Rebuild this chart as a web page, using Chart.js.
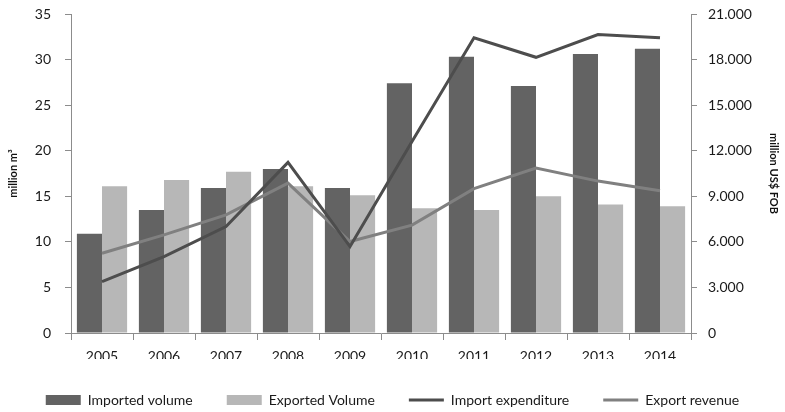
<!DOCTYPE html>
<html>
<head>
<meta charset="utf-8">
<script src="https://cdn.jsdelivr.net/npm/chart.js@4.4.1/dist/chart.umd.min.js"></script>
<style>
  html, body { margin: 0; padding: 0; background: #fff; }
  #wrap { position: relative; width: 785px; height: 412px; }
</style>
</head>
<body>
<div id="wrap"><canvas id="myChart"></canvas></div>
<script>
const years = ['2005', '2006', '2007', '2008', '2009', '2010', '2011', '2012', '2013', '2014'];

// volumes, million m3 (left axis)
const importedVolume = [10.9, 13.5, 15.9, 18.0, 15.9, 27.4, 30.3, 27.1, 30.6, 31.2];
const exportedVolume = [16.1, 16.8, 17.7, 16.1, 15.1, 13.7, 13.5, 15.0, 14.1, 13.9];

// money, million US$ FOB (right axis)
const importExpenditure = [3380, 5030, 7010, 11230, 5690, 12600, 19430, 18150, 19650, 19430];
const exportRevenue = [5250, 6460, 7780, 9870, 6020, 7100, 9500, 10860, 10000, 9360];

const ctx = document.getElementById('myChart');
const axisColor = '#8c8c8c';
const textColor = '#1a1a1a';

Chart.defaults.font.family = 'Lato, "Open Sans", sans-serif';
Chart.defaults.color = textColor;

function thousands(value) {
    if (value === 0) return '0';
    const s = String(value);
    return s.slice(0, s.length - 3) + '.' + s.slice(-3);
}

// fixed axis widths and top room, so the plot box stays put
function fitSide(width) {
    return (scale) => {
        scale.width = width;
        scale.paddingTop = 14;
    };
}

const chart = new Chart(ctx, {
    type: 'bar',
    data: {
        labels: years,
        datasets: [{
            label: 'Imported volume',
            data: importedVolume,
            backgroundColor: '#636363',
            yAxisID: 'y',
            order: 2,
            pointStyle: 'rect'
        }, {
            label: 'Exported Volume',
            data: exportedVolume,
            backgroundColor: '#b7b7b7',
            yAxisID: 'y',
            order: 2,
            pointStyle: 'rect'
        }, {
            type: 'line',
            label: 'Import expenditure',
            data: importExpenditure,
            borderColor: '#4d4d4d',
            backgroundColor: '#4d4d4d',
            borderWidth: 3,
            pointRadius: 0,
            tension: 0,
            yAxisID: 'y1',
            order: 0,
            pointStyle: 'line'
        }, {
            type: 'line',
            label: 'Export revenue',
            data: exportRevenue,
            borderColor: '#808080',
            backgroundColor: '#808080',
            borderWidth: 3,
            pointRadius: 0,
            tension: 0,
            yAxisID: 'y1',
            order: 1,
            pointStyle: 'line'
        }]
    },
    options: {
        responsive: true,
        maintainAspectRatio: false,
        animation: false,
        layout: {
            padding: { left: 1, right: 1, top: 0, bottom: 2 }
        },
        datasets: {
            bar: { barPercentage: 1.0, categoryPercentage: 0.81 }
        },
        plugins: {
            tooltip: { enabled: false },
            legend: {
                position: 'bottom',
                maxHeight: 51,
                labels: {
                    usePointStyle: true,
                    pointStyleWidth: 35,
                    boxHeight: 10,
                    padding: 34,
                    color: textColor,
                    font: { size: 14 },
                    sort: (a, b) => a.datasetIndex - b.datasetIndex
                }
            }
        },
        scales: {
            x: {
                grid: {
                    display: true,
                    drawOnChartArea: false,
                    drawTicks: true,
                    tickLength: 7,
                    color: axisColor
                },
                border: { color: axisColor, width: 1 },
                ticks: { font: { size: 14 }, color: textColor, padding: 8 },
                // keep the legend close under the year labels
                afterFit: (scale) => { scale.height = 26; }
            },
            y: {
                position: 'left',
                min: 0,
                max: 35,
                ticks: { stepSize: 5, font: { size: 14 }, color: textColor, padding: 14 },
                grid: {
                    display: true,
                    drawOnChartArea: false,
                    drawTicks: true,
                    tickLength: 6,
                    color: axisColor
                },
                border: { color: axisColor, width: 1 },
                title: {
                    display: true,
                    text: 'million m³',
                    font: { size: 11, weight: 'bold' },
                    color: '#111',
                    padding: 6
                },
                afterFit: fitSide(70)
            },
            y1: {
                position: 'right',
                min: 0,
                max: 21000,
                ticks: {
                    stepSize: 3000,
                    font: { size: 14 },
                    color: textColor,
                    padding: 11,
                    callback: thousands
                },
                grid: {
                    display: true,
                    drawOnChartArea: false,
                    drawTicks: true,
                    tickLength: 6,
                    color: axisColor
                },
                border: { color: axisColor, width: 1 },
                title: {
                    display: true,
                    text: 'million US$ FOB',
                    font: { size: 11, weight: 'bold' },
                    color: '#111',
                    padding: 4
                },
                afterFit: fitSide(93)
            }
        }
    }
});
</script>
</body>
</html>
